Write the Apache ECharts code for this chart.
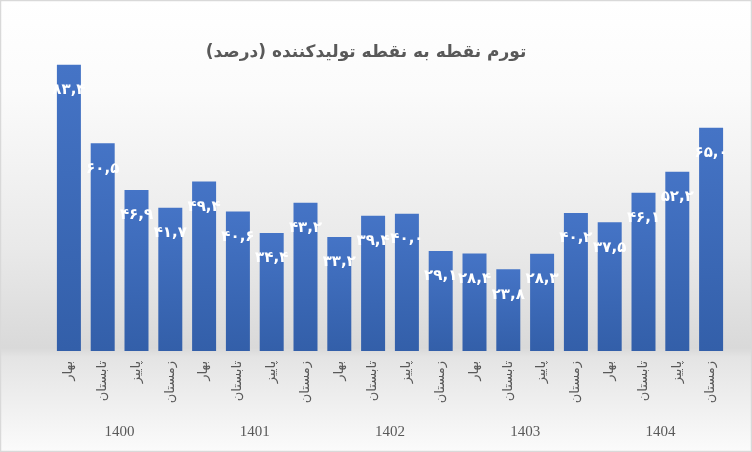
<!DOCTYPE html>
<html>
<head>
    <meta charset="utf-8">
    <title>تورم نقطه به نقطه تولیدکننده</title>
    <script src="https://cdn.jsdelivr.net/npm/echarts@6/dist/echarts.min.js"></script>
    <style>
        html, body { margin: 0; padding: 0; background: #fff; }
    </style>
</head>
<body>
    <div id="main" style="width: 752px;height:452px;"></div>
    <script type="text/javascript">
        // داده ها
        var seasons = ['بهار', 'تابستان', 'پاییز', 'زمستان'];
        var years = ['1400', '1401', '1402', '1403', '1404'];
        var values = [83.4, 60.5, 46.9, 41.7, 49.4, 40.6, 34.4, 43.2, 33.2, 39.4,
                      40.0, 29.1, 28.4, 23.8, 28.3, 40.2, 37.5, 46.1, 52.2, 65.0];

        var categories = [];
        years.forEach(function (y) {
            seasons.forEach(function (s) { categories.push(s); });
        });

        var faDigits = '۰۱۲۳۴۵۶۷۸۹';
        function toFa(v) {
            return v.toFixed(1).replace('.', ',').replace(/[0-9]/g, function (d) {
                return faDigits[+d];
            });
        }

        var chart = echarts.init(document.getElementById('main'));

        var option = {
            backgroundColor: new echarts.graphic.LinearGradient(0, 0, 0, 1, [
                { offset: 0, color: '#ffffff' },
                { offset: 0.2, color: '#fbfbfb' },
                { offset: 0.55, color: '#e9e9e9' },
                { offset: 0.77, color: '#d9d9d9' },
                { offset: 0.79, color: '#e4e4e4' },
                { offset: 1, color: '#fbfbfb' }
            ]),
            title: {
                text: 'تورم نقطه به نقطه تولیدکننده (درصد)',
                left: 361,
                top: 39,
                textAlign: 'center',
                textStyle: {
                    fontFamily: 'DejaVu Sans',
                    fontSize: 17,
                    fontWeight: 'bold',
                    color: '#595959'
                }
            },
            grid: {
                left: 52,
                right: 24,
                top: 42,
                bottom: 101
            },
            xAxis: [
                {
                    type: 'category',
                    data: categories,
                    axisLine: { show: false },
                    axisTick: { show: false },
                    axisLabel: {
                        interval: 0,
                        rotate: 90,
                        margin: 10,
                        fontFamily: 'DejaVu Sans',
                        fontSize: 13,
                        color: '#595959'
                    }
                },
                {
                    type: 'category',
                    position: 'bottom',
                    data: years,
                    axisLine: { show: false },
                    axisTick: { show: false },
                    axisLabel: {
                        margin: 74,
                        fontFamily: 'Liberation Serif',
                        fontSize: 15,
                        color: '#595959'
                    }
                }
            ],
            yAxis: {
                type: 'value',
                min: 0,
                max: 90,
                show: false,
                splitLine: { show: false }
            },
            series: [
                {
                    type: 'bar',
                    data: values,
                    barCategoryGap: '29%',
                    itemStyle: {
                        color: new echarts.graphic.LinearGradient(0, 0, 0, 1, [
                            { offset: 0, color: '#4574c6' },
                            { offset: 1, color: '#335fa9' }
                        ])
                    },
                    label: {
                        show: true,
                        position: 'insideTop',
                        distance: 18,
                        formatter: function (p) { return toFa(p.value); },
                        fontFamily: 'DejaVu Sans',
                        fontSize: 15,
                        fontWeight: 'bold',
                        color: '#ffffff'
                    }
                }
            ],
            graphic: [
                {
                    type: 'rect',
                    silent: true,
                    shape: { x: 0.5, y: 0.5, width: 751, height: 451 },
                    style: { fill: 'none', stroke: '#d9d9d9', lineWidth: 1.5 }
                }
            ]
        };

        chart.setOption(option);
    </script>
</body>
</html>
